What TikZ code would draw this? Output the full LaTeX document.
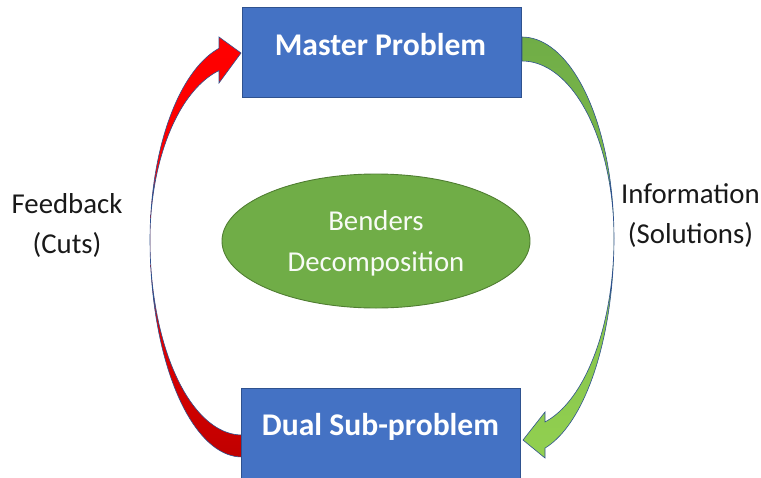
\documentclass[tikz,border=0pt]{standalone}
\usepackage{fontspec}
\setmainfont{Carlito}
\usetikzlibrary{shapes.geometric}
\definecolor{boxblue}{HTML}{4472C4}
\definecolor{boxedge}{HTML}{2F528F}
\definecolor{ellgreen}{HTML}{70AD47}
\definecolor{elledge}{HTML}{507E32}
\definecolor{darkred}{HTML}{C00000}
\definecolor{lightgreen}{HTML}{92D050}
\begin{document}
\begin{tikzpicture}[x=1pt,y=-1pt,
  boxstyle/.style={draw=boxedge,fill=boxblue,line width=0.9pt,minimum width=279pt,minimum height=90pt,inner sep=0pt},
  boxtext/.style={text=white,font=\fontsize{31.6}{36}\selectfont\bfseries,inner sep=0pt},
  ellstyle/.style={ellipse,draw=elledge,fill=ellgreen,line width=0.9pt,minimum width=308pt,minimum height=134pt,inner sep=0pt},
  elltext/.style={text=white!95!ellgreen,font=\fontsize{28.8}{41}\selectfont,align=center,inner sep=0pt},
  sidetext/.style={text=black!90,font=\fontsize{28.8}{40}\selectfont,align=center,inner sep=0pt},
  arrowline/.style={draw=boxedge,line width=0.6pt,line join=miter}
]
\useasboundingbox (0,0) rectangle (761,477);
% red curved arrow (feedback)
\path[arrowline,top color=red,bottom color=darkred,middle color=red!92!darkred]
  plot[domain=90:180,samples=40,variable=\t] ({242+92*cos(\t)},{240+217*sin(\t)})
  -- plot[domain=180:255.52,samples=40,variable=\t] ({242+92*cos(\t)},{240+198*sin(\t)})
  -- (219,37) -- (241,53) -- (219,83)
  -- plot[domain=255.52:180,samples=40,variable=\t] ({242+92*cos(\t)},{240+175*sin(\t)})
  -- plot[domain=180:90,samples=40,variable=\t] ({242+92*cos(\t)},{240+195*sin(\t)})
  -- cycle;
% green curved arrow (information)
\path[arrowline,top color=ellgreen,bottom color=lightgreen]
  plot[domain=270:360,samples=40,variable=\t] ({522+92*cos(\t)},{238+201*sin(\t)})
  -- plot[domain=0:75.52,samples=40,variable=\t] ({522+92*cos(\t)},{238+217*sin(\t)})
  -- (545,458) -- (523,440) -- (545,412)
  -- plot[domain=75.52:0,samples=40,variable=\t] ({522+92*cos(\t)},{238+190*sin(\t)})
  -- plot[domain=360:270,samples=40,variable=\t] ({522+92*cos(\t)},{238+177*sin(\t)})
  -- cycle;
% boxes
\node[boxstyle] (master) at (381.5,52) {};
\node[boxtext,anchor=base] (mastertext) at (380.5,55) {Master Problem};
\node[boxstyle] (dual) at (381,433) {};
\node[boxtext,anchor=base] (dualtext) at (380.5,435) {Dual Sub-problem};
% ellipse
\node[ellstyle] (benders) at (376,241) {};
\node[elltext] (benderstext) at (376,243) {Benders\\Decomposition};
% side labels
\node[sidetext] (feedback) at (67,225) {Feedback\\(Cuts)};
\node[sidetext] (info) at (690.5,216) {Information\\(Solutions)};
\end{tikzpicture}
\end{document}
